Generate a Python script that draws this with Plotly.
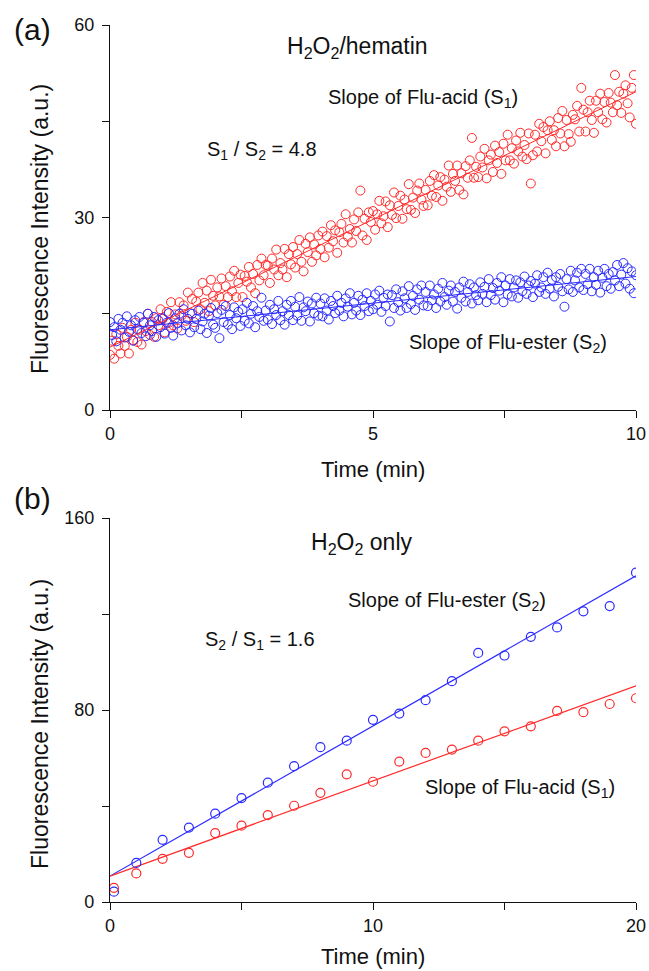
import plotly.graph_objects as go

# ---------------- Panel (a): H2O2/hematin ----------------
time_a = [
    0, 0.04, 0.08, 0.12, 0.16, 0.2, 0.24, 0.28, 0.32, 0.36, 0.4, 0.44, 0.48, 0.52, 0.56, 0.6, 0.64, 0.68, 0.72, 0.76, 0.8, 0.84, 0.88, 0.92, 0.96,
    1, 1.04, 1.08, 1.12, 1.16, 1.2, 1.24, 1.28, 1.32, 1.36, 1.4, 1.44, 1.48, 1.52, 1.56, 1.6, 1.64, 1.68, 1.72, 1.76, 1.8, 1.84, 1.88, 1.92, 1.96,
    2, 2.04, 2.08, 2.12, 2.16, 2.2, 2.24, 2.28, 2.32, 2.36, 2.4, 2.44, 2.48, 2.52, 2.56, 2.6, 2.64, 2.68, 2.72, 2.76, 2.8, 2.84, 2.88, 2.92, 2.96,
    3, 3.04, 3.08, 3.12, 3.16, 3.2, 3.24, 3.28, 3.32, 3.36, 3.4, 3.44, 3.48, 3.52, 3.56, 3.6, 3.64, 3.68, 3.72, 3.76, 3.8, 3.84, 3.88, 3.92, 3.96,
    4, 4.04, 4.08, 4.12, 4.16, 4.2, 4.24, 4.28, 4.32, 4.36, 4.4, 4.44, 4.48, 4.52, 4.56, 4.6, 4.64, 4.68, 4.72, 4.76, 4.8, 4.84, 4.88, 4.92, 4.96,
    5, 5.04, 5.08, 5.12, 5.16, 5.2, 5.24, 5.28, 5.32, 5.36, 5.4, 5.44, 5.48, 5.52, 5.56, 5.6, 5.64, 5.68, 5.72, 5.76, 5.8, 5.84, 5.88, 5.92, 5.96,
    6, 6.04, 6.08, 6.12, 6.16, 6.2, 6.24, 6.28, 6.32, 6.36, 6.4, 6.44, 6.48, 6.52, 6.56, 6.6, 6.64, 6.68, 6.72, 6.76, 6.8, 6.84, 6.88, 6.92, 6.96,
    7, 7.04, 7.08, 7.12, 7.16, 7.2, 7.24, 7.28, 7.32, 7.36, 7.4, 7.44, 7.48, 7.52, 7.56, 7.6, 7.64, 7.68, 7.72, 7.76, 7.8, 7.84, 7.88, 7.92, 7.96,
    8, 8.04, 8.08, 8.12, 8.16, 8.2, 8.24, 8.28, 8.32, 8.36, 8.4, 8.44, 8.48, 8.52, 8.56, 8.6, 8.64, 8.68, 8.72, 8.76, 8.8, 8.84, 8.88, 8.92, 8.96,
    9, 9.04, 9.08, 9.12, 9.16, 9.2, 9.24, 9.28, 9.32, 9.36, 9.4, 9.44, 9.48, 9.52, 9.56, 9.6, 9.64, 9.68, 9.72, 9.76, 9.8, 9.84, 9.88, 9.92, 9.96,
    10,
]

acid_a = [
    8.6, 10.8, 8.0, 11.8, 10.0, 8.8, 12.8, 10.0, 11.4, 8.8, 12.5, 10.9, 13.6, 10.6, 12.5, 10.2, 13.7, 12.3, 15.0, 11.7, 13.7, 11.4, 14.3, 13.2, 15.7,
    14.2, 12.1, 15.3, 13.6, 16.8, 13.2, 14.9, 12.7, 16.8, 14.7, 16.3, 13.9, 18.3, 15.1, 17.3, 13.7, 16.9, 18.3, 15.7, 19.8, 16.7, 18.6, 15.4, 20.3, 17.8,
    16.3, 19.1, 17.7, 20.5, 16.4, 19.3, 17.6, 20.8, 18.5, 21.7, 17.6, 19.8, 21.1, 17.6, 20.9, 20.0, 22.3, 19.1, 21.2, 18.2, 22.6, 20.2, 23.6, 21.0, 22.6,
    22.5, 19.8, 23.6, 21.9, 25.0, 21.0, 22.9, 21.9, 25.1, 20.7, 24.3, 22.7, 25.4, 22.2, 24.3, 26.5, 23.1, 21.6, 25.9, 24.6, 26.9, 23.1, 25.8, 24.1, 27.2,
    25.1, 27.8, 23.8, 27.1, 25.3, 28.8, 26.3, 28.0, 24.5, 27.7, 29.0, 26.1, 30.5, 27.0, 28.2, 26.1, 29.7, 27.9, 30.8, 34.2, 27.2, 29.8, 26.5, 30.8, 29.3,
    31.0, 28.1, 30.5, 32.6, 29.1, 30.2, 32.5, 28.5, 31.9, 30.4, 33.9, 29.9, 31.8, 33.4, 29.8, 32.8, 31.3, 35.2, 31.2, 33.1, 30.7, 34.2, 35.3, 32.8, 31.8,
    34.3, 31.9, 35.7, 33.4, 36.6, 33.2, 35.0, 36.3, 32.6, 35.9, 34.8, 38.1, 34.0, 36.8, 35.7, 38.1, 34.3, 36.9, 33.6, 38.0, 36.2, 38.9, 42.4, 36.2, 37.9,
    36.3, 39.5, 37.8, 40.7, 36.1, 38.9, 39.8, 37.1, 41.2, 38.5, 40.2, 36.8, 41.5, 38.9, 42.9, 38.9, 40.8, 38.4, 42.0, 40.3, 43.2, 39.5, 41.3, 39.1, 43.1,
    35.3, 39.7, 42.9, 40.3, 44.6, 41.9, 44.1, 40.0, 43.6, 45.0, 42.1, 43.6, 41.1, 45.5, 43.1, 46.6, 41.1, 45.2, 43.0, 41.8, 46.0, 45.3, 47.4, 43.4, 50.2,
    46.8, 43.4, 46.4, 48.2, 45.2, 43.2, 48.2, 46.4, 49.3, 45.3, 48.0, 44.8, 49.4, 47.9, 46.4, 52.2, 47.5, 49.6, 46.3, 49.3, 50.6, 47.8, 45.6, 50.2, 52.2,
    44.6,
]

ester_a = [
    13.7, 11.7, 12.9, 10.7, 14.2, 12.5, 13.6, 11.3, 14.6, 12.2, 13.2, 10.8, 14.0, 12.6, 14.5, 12.0, 13.6, 11.5, 15.0, 13.2, 12.3, 14.5, 11.4, 14.0, 12.9,
    14.3, 11.9, 13.6, 15.1, 12.8, 11.6, 14.3, 13.5, 15.0, 12.4, 15.7, 13.2, 14.2, 12.1, 15.0, 12.9, 14.2, 15.5, 12.6, 13.8, 15.0, 12.0, 14.7, 15.9, 13.3,
    12.8, 15.1, 11.2, 15.6, 13.7, 16.2, 13.3, 14.8, 12.6, 16.0, 14.3, 15.3, 13.1, 15.7, 13.9, 16.7, 13.5, 15.0, 16.2, 12.9, 15.4, 14.5, 17.5, 13.9, 15.5,
    14.1, 16.4, 13.4, 15.7, 14.8, 17.0, 14.0, 15.4, 13.3, 16.4, 14.8, 17.0, 14.0, 16.1, 14.7, 17.6, 13.9, 16.0, 15.4, 16.9, 13.8, 16.6, 15.1, 17.5, 14.7,
    16.6, 14.6, 17.4, 15.5, 14.1, 17.0, 16.2, 15.1, 17.8, 15.5, 16.7, 14.6, 17.4, 16.1, 18.2, 14.9, 16.7, 15.5, 17.8, 14.8, 17.2, 16.2, 18.2, 15.4, 17.0,
    15.7, 18.0, 16.4, 18.6, 15.3, 17.5, 16.2, 18.0, 13.8, 17.9, 15.9, 18.8, 16.8, 15.5, 18.5, 17.4, 15.9, 19.3, 16.5, 17.8, 15.6, 18.8, 17.2, 19.4, 16.3,
    18.4, 16.2, 19.4, 17.1, 18.0, 15.9, 18.9, 16.9, 19.8, 17.6, 16.4, 18.6, 19.4, 16.9, 18.4, 15.8, 19.1, 17.5, 20.0, 16.9, 18.4, 19.6, 16.6, 19.1, 17.9,
    17.1, 19.9, 18.1, 19.2, 16.8, 20.4, 17.9, 19.0, 17.2, 19.8, 18.6, 20.7, 16.8, 19.4, 18.0, 20.4, 17.7, 19.1, 20.2, 17.5, 19.9, 18.5, 20.8, 18.1, 19.4,
    20.1, 17.6, 19.7, 21.0, 18.4, 19.1, 20.7, 18.1, 21.4, 18.9, 20.3, 17.7, 20.7, 19.2, 21.2, 18.5, 16.1, 20.4, 18.8, 21.7, 18.4, 20.2, 21.4, 19.1, 22.0,
    18.7, 21.2, 19.6, 22.0, 18.5, 20.7, 19.5, 21.7, 18.3, 20.6, 22.0, 19.3, 21.2, 18.9, 21.5, 20.2, 22.6, 19.3, 21.1, 22.9, 19.7, 22.1, 18.9, 21.6, 18.2,
    21.0,
]

fit_time_a = [0, 10]
fit_acid_a = [9.8, 49.6]
fit_ester_a = [12.5, 20.8]

# ---------------- Panel (b): H2O2 only ----------------
time_b = [0.15, 1, 2, 3, 4, 5, 6, 7, 8, 9, 10, 11, 12, 13, 14, 15, 16, 17, 18, 19, 20]
ester_b = [4.3, 16.3, 25.9, 31.0, 36.8, 43.3, 49.7, 56.6, 64.5, 67.2, 75.9, 78.5, 84.1, 92.0,
           103.8, 102.7, 110.5, 114.4, 121.1, 123.3, 137.2]
acid_b = [5.9, 11.9, 18.0, 20.5, 28.7, 31.8, 36.2, 40.1, 45.5, 53.2, 50.1, 58.5, 62.1, 63.5,
          67.2, 71.1, 73.2, 79.6, 79.1, 82.5, 84.9]

fit_time_b = [0, 20]
fit_ester_b = [10.8, 135.9]
fit_acid_b = [10.8, 90.1]

yticks_a = [0, 30, 60]
xticks_a = [0, 5, 10]
yticks_b = [0, 80, 160]
xticks_b = [0, 10, 20]

# ---------------- Layout helpers ----------------
W, H = 649, 971
L, R, T, B = 110, 13, 25, 69
PW, PH = W - L - R, H - T - B


def px(x):
    return (x - L) / PW


def py(y):
    return (H - B - y) / PH


FONT = "Liberation Sans, Arial, sans-serif"
RED = "#ff2a2a"
BLUE = "#2a2aff"
INK = "#111111"

fig = go.Figure()

# panel (a)
fig.add_trace(go.Scatter(x=time_a, y=acid_a, mode="markers", xaxis="x", yaxis="y",
                         marker=dict(symbol="circle-open", size=9, color=RED, line=dict(width=1))))
fig.add_trace(go.Scatter(x=time_a, y=ester_a, mode="markers", xaxis="x", yaxis="y",
                         marker=dict(symbol="circle-open", size=9, color=BLUE, line=dict(width=1))))
fig.add_trace(go.Scatter(x=fit_time_a, y=fit_acid_a, mode="lines", xaxis="x", yaxis="y",
                         line=dict(color=RED, width=1)))
fig.add_trace(go.Scatter(x=fit_time_a, y=fit_ester_a, mode="lines", xaxis="x", yaxis="y",
                         line=dict(color=BLUE, width=1)))

# panel (b)
fig.add_trace(go.Scatter(x=fit_time_b, y=fit_ester_b, mode="lines", xaxis="x2", yaxis="y2",
                         line=dict(color=BLUE, width=1.2)))
fig.add_trace(go.Scatter(x=fit_time_b, y=fit_acid_b, mode="lines", xaxis="x2", yaxis="y2",
                         line=dict(color=RED, width=1.2)))
fig.add_trace(go.Scatter(x=time_b, y=ester_b, mode="markers", xaxis="x2", yaxis="y2",
                         marker=dict(symbol="circle-open", size=9, color=BLUE, line=dict(width=1.2))))
fig.add_trace(go.Scatter(x=time_b, y=acid_b, mode="markers", xaxis="x2", yaxis="y2",
                         marker=dict(symbol="circle-open", size=9, color=RED, line=dict(width=1.2))))


def axis(rng, ticks, minor_dtick, domain, anchor, standoff=0):
    return dict(
        range=rng, domain=domain, anchor=anchor, automargin=False,
        tickmode="array", tickvals=ticks, ticktext=[str(t) for t in ticks],
        showline=True, linecolor=INK, linewidth=1.3,
        ticks="outside", ticklen=7, tickwidth=1.3, tickcolor=INK,
        minor=dict(ticks="outside", ticklen=7, tickwidth=1.3, tickcolor=INK,
                   tick0=0, dtick=minor_dtick, showgrid=False),
        showgrid=False, zeroline=False, mirror=False,
        ticklabelstandoff=standoff,
        tickfont=dict(family=FONT, size=18, color=INK),
    )


dom_a = [py(410), 1.0]
dom_b = [0.0, py(518)]

fig.update_layout(
    width=W, height=H, autosize=False,
    margin=dict(l=L, r=R, t=T, b=B, autoexpand=False),
    paper_bgcolor="white", plot_bgcolor="white",
    showlegend=False,
    font=dict(family=FONT, color=INK),
    xaxis=axis([0, 10], xticks_a, 2.5, [0, 1], "y"),
    yaxis=axis([0, 60], yticks_a, 15, dom_a, "x", standoff=4),
    xaxis2=axis([0, 20], xticks_b, 5, [0, 1], "y2"),
    yaxis2=axis([0, 160], yticks_b, 40, dom_b, "x2", standoff=4),
)

ann = [
    # panel labels
    ("(a)", 32, 30, 30, 0),
    ("(b)", 32, 498, 30, 0),
    # axis titles
    ("Time (min)", 373, 469, 22, 0),
    ("Time (min)", 373, 956, 22, 0),
    ("Fluorescence Intensity (a.u.)", 40, 229, 23, -90),
    ("Fluorescence Intensity (a.u.)", 40, 724, 23, -90),
    # panel (a) texts
    ("H<sub>2</sub>O<sub>2</sub>/hematin", 357, 48, 23, 0),
    ("Slope of Flu-acid (S<sub>1</sub>)", 423, 98, 20, 0),
    ("S<sub>1</sub> / S<sub>2</sub> = 4.8", 262, 150, 20, 0),
    ("Slope of Flu-ester (S<sub>2</sub>)", 508, 344, 20, 0),
    # panel (b) texts
    ("H<sub>2</sub>O<sub>2</sub> only", 362, 543, 23, 0),
    ("Slope of Flu-ester (S<sub>2</sub>)", 447, 601, 20, 0),
    ("S<sub>2</sub> / S<sub>1</sub> = 1.6", 260, 640, 20, 0),
    ("Slope of Flu-acid (S<sub>1</sub>)", 520, 788, 20, 0),
]
for text, x, y, size, angle in ann:
    fig.add_annotation(text=text, xref="paper", yref="paper", x=px(x), y=py(y),
                       xanchor="center", yanchor="middle", showarrow=False,
                       textangle=angle, font=dict(family=FONT, size=size, color=INK))

fig.write_html(
    "out.html",
    config={"displayModeBar": False, "responsive": False},
    post_script="document.body.style.margin='0';document.body.style.overflow='hidden';",
)
